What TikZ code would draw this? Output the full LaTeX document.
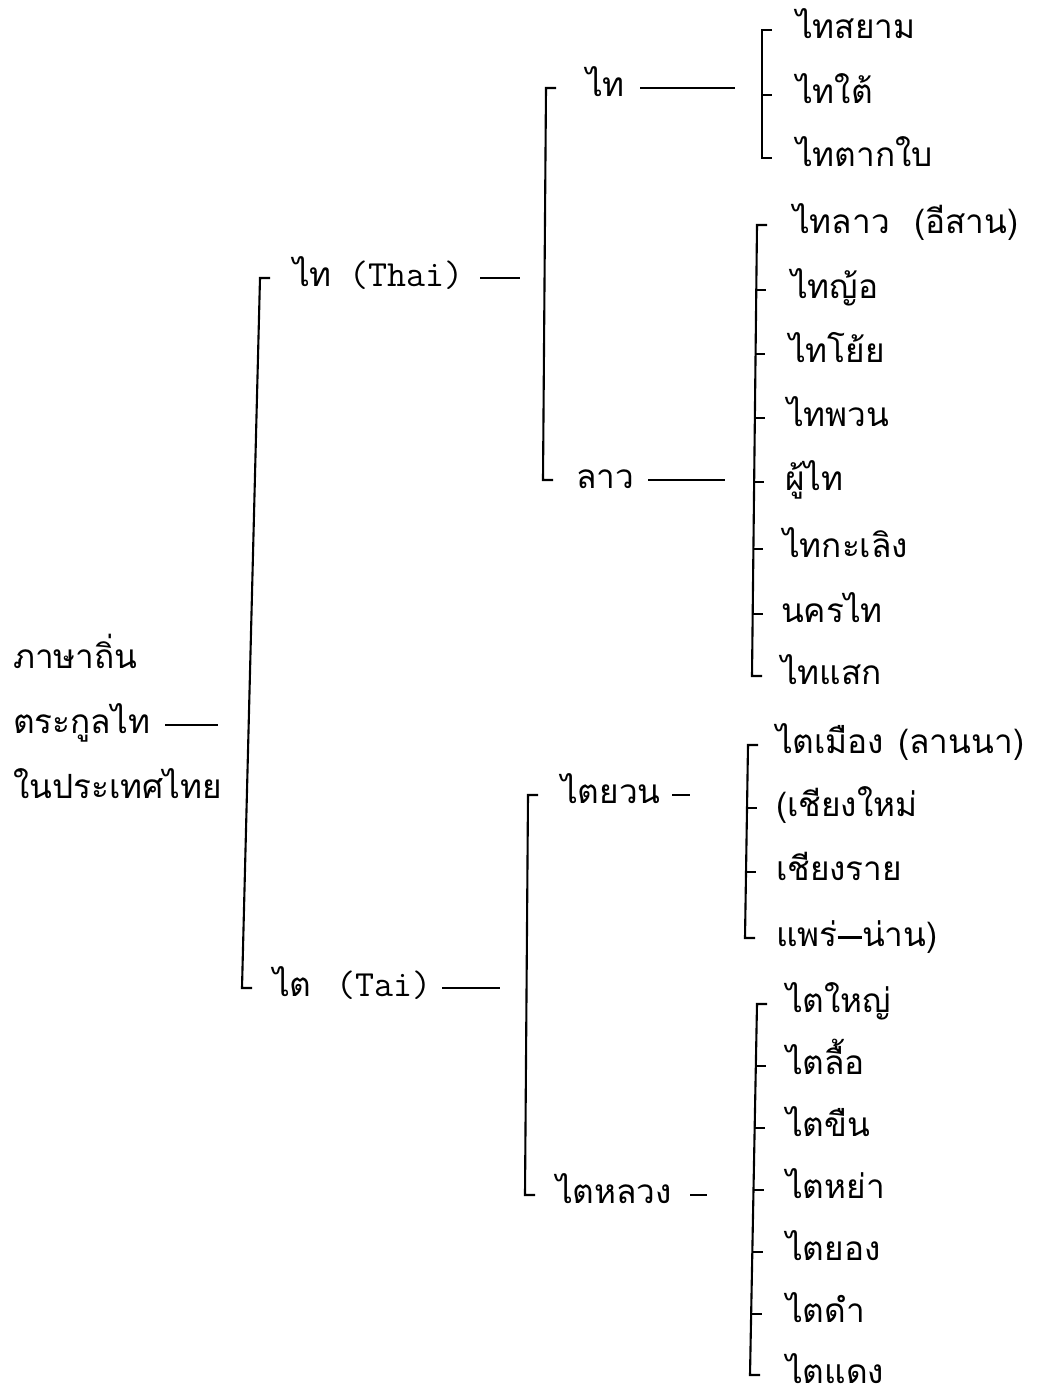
\documentclass[tikz,border=0pt]{standalone}
\usepackage{fontspec}
\newfontfamily\thaifont[Script=Thai]{Loma}
\usepackage{tikz}

\begin{document}
\begin{tikzpicture}[x=0.02cm, y=-0.02cm, line width=1.2pt,
  every node/.style={anchor=west, inner sep=0pt, text height=14pt, text depth=4pt,
    font=\thaifont\fontsize{19}{23}\selectfont}]
  \useasboundingbox (0,0) rectangle (1041,1400);
  % root
  \node (r1) at (12,660) {ภาษาถิ่น};
  \node (r2) at (12,725) {ตระกูลไท};
  \node (r3) at (12,790) {ในประเทศไทย};
  % level one
  \node (thai) at (292,278) {ไท\hspace{10pt}{\ttfamily\fontsize{21}{24}\selectfont (Thai)}};
  \node (tai) at (272,988) {ไต\hspace{14pt}{\ttfamily\fontsize{21}{24}\selectfont (Tai)}};
  % level two
  \node (th) at (585,88) {ไท};
  \node (lao) at (575,480) {ลาว};
  \node (yuan) at (560,795) {ไตยวน};
  \node (luang) at (555,1195) {ไตหลวง};
  % ไท
  \node (k1) at (795,30) {ไทสยาม};
  \node (k2) at (795,95) {ไทใต้};
  \node (k3) at (795,158) {ไทตากใบ};
  % ลาว
  \node (l1) at (792,225) {ไทลาว\hspace{14pt}(อีสาน)};
  \node (l2) at (790,290) {ไทญ้อ};
  \node (l3) at (788,354) {ไทโย้ย};
  \node (l4) at (786,418) {ไทพวน};
  \node (l5) at (784,482) {ผู้ไท};
  \node (l6) at (782,549) {ไทกะเลิง};
  \node (l7) at (780,614) {นครไท};
  \node (l8) at (780,676) {ไทแสก};
  % ไตยวน
  \node (y1) at (775,745) {ไตเมือง\hspace{8pt}(ลานนา)};
  \node (y2) at (775,808) {(เชียงใหม่};
  \node (y3) at (775,872) {เชียงราย};
  \node (y4) at (775,938) {แพร่\rule[4.5pt]{14pt}{1.4pt}น่าน)};
  % ไตหลวง
  \node (h1) at (785,1004) {ไตใหญ่};
  \node (h2) at (785,1066) {ไตลื้อ};
  \node (h3) at (785,1128) {ไตขืน};
  \node (h4) at (785,1190) {ไตหย่า};
  \node (h5) at (785,1252) {ไตยอง};
  \node (h6) at (785,1314) {ไตดำ};
  \node (h7) at (785,1375) {ไตแดง};

  % dashes
  \draw (r2.east -| 165,0) -- (r2.east -| 218,0);
  \draw (thai.east -| 480,0) -- (thai.east -| 520,0);
  \draw (tai.east -| 442,0) -- (tai.east -| 500,0);
  \draw (th.east -| 640,0) -- (th.east -| 735,0);
  \draw (lao.east -| 648,0) -- (lao.east -| 725,0);
  \draw (yuan.east -| 672,0) -- (yuan.east -| 690,0);
  \draw (luang.east -| 690,0) -- (luang.east -| 707,0);

  % brackets
  \draw (thai.west -| 270,0) -- (thai.west -| 260,0) -- (tai.west -| 242,0) -- (tai.west -| 252,0);
  \draw (th.west -| 556,0) -- (th.west -| 546,0) -- (lao.west -| 543,0) -- (lao.west -| 553,0);
  \draw (yuan.west -| 538,0) -- (yuan.west -| 528,0) -- (luang.west -| 525,0) -- (luang.west -| 535,0);
  \draw (k1.west -| 772,0) -- (k1.west -| 762,0) -- (k3.west -| 762,0) -- (k3.west -| 772,0);
  \draw (k2.west -| 762,0) -- (k2.west -| 772,0);
  \draw (l1.west -| 767,0) -- (l1.west -| 757,0) -- (l8.west -| 752,0) -- (l8.west -| 762,0);
  \foreach \n/\x in {l2/756,l3/755,l4/755,l5/754,l6/753,l7/753}
    \draw (\n.west -| \x,0) -- (\n.west -| \x+10,0);
  \draw (y1.west -| 758,0) -- (y1.west -| 748,0) -- (y4.west -| 745,0) -- (y4.west -| 755,0);
  \foreach \n/\x in {y2/747,y3/746}
    \draw (\n.west -| \x,0) -- (\n.west -| \x+10,0);
  \draw (h1.west -| 767,0) -- (h1.west -| 757,0) -- (h7.west -| 750,0) -- (h7.west -| 760,0);
  \foreach \n/\x in {h2/756,h3/755,h4/754,h5/753,h6/752}
    \draw (\n.west -| \x,0) -- (\n.west -| \x+10,0);
\end{tikzpicture}
\end{document}
